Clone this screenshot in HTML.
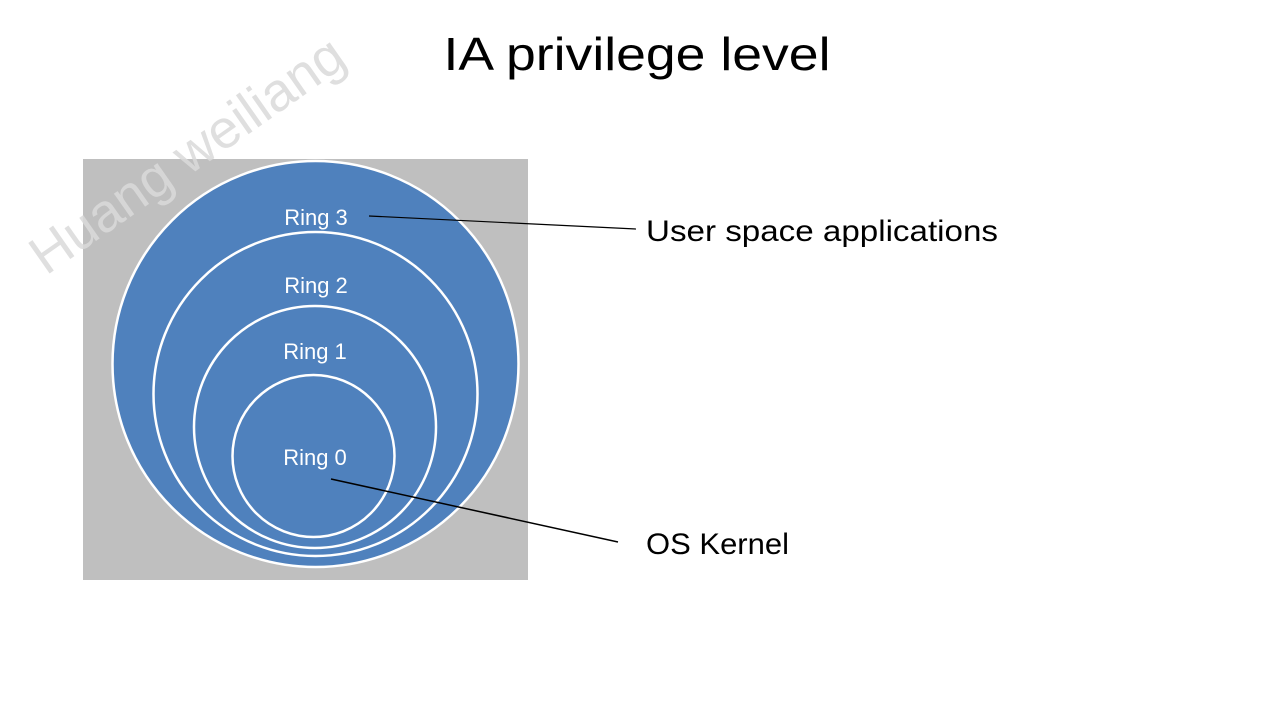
<!DOCTYPE html>
<html><head><meta charset="utf-8"><style>
html,body{margin:0;padding:0;background:#fff;width:1280px;height:720px;overflow:hidden}
</style></head><body>
<svg width="1280" height="720" viewBox="0 0 1280 720" xmlns="http://www.w3.org/2000/svg" font-family="Liberation Sans, sans-serif">
<rect width="1280" height="720" fill="#fff"/>
<text x="637" y="70" font-size="46" text-anchor="middle" textLength="387" lengthAdjust="spacingAndGlyphs" fill="#000">IA privilege level</text>
<rect x="83" y="159" width="445" height="421" fill="#bfbfbf"/>
<g fill="#4f81bd" stroke="#fff" stroke-width="2.5">
<circle cx="315.5" cy="364" r="203"/>
<circle cx="315.5" cy="394" r="162"/>
<circle cx="315" cy="427" r="121"/>
<circle cx="313.5" cy="456" r="81"/>
</g>
<g fill="#fff" font-size="22" text-anchor="middle">
<text x="316" y="225">Ring 3</text>
<text x="316" y="293">Ring 2</text>
<text x="315" y="359">Ring 1</text>
<text x="315" y="465">Ring 0</text>
</g>
<line x1="369" y1="216" x2="636" y2="229" stroke="#000" stroke-width="1.2"/>
<line x1="331" y1="479" x2="618" y2="542" stroke="#000" stroke-width="1.5"/>
<text x="646" y="241" font-size="30" textLength="352" lengthAdjust="spacingAndGlyphs" fill="#000">User space applications</text>
<text x="646" y="554" font-size="30" textLength="143" lengthAdjust="spacingAndGlyphs" fill="#000">OS Kernel</text>
<text transform="translate(46,276) rotate(-35)" font-size="54" fill="#d9d9d9" fill-opacity="0.85" textLength="370" lengthAdjust="spacingAndGlyphs">Huang weiliang</text>
</svg>
</body></html>
